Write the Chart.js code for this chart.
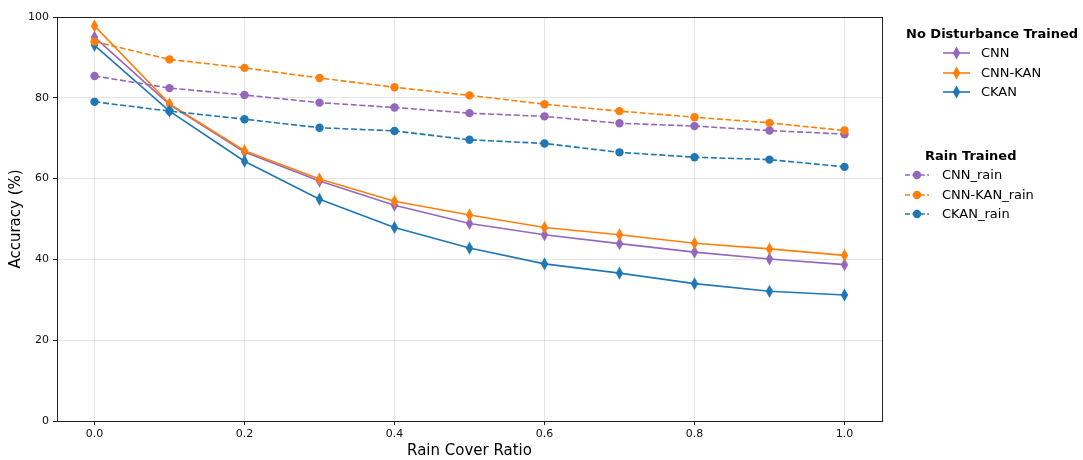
<!DOCTYPE html>
<html>
<head>
<meta charset="utf-8">
<script src="https://cdn.jsdelivr.net/npm/chart.js@4.4.1/dist/chart.umd.min.js"></script>
<style>
  html,body{margin:0;padding:0;background:#fff;}
  #wrap{position:relative;width:1083px;height:460px;font-family:"DejaVu Sans",sans-serif;}
  canvas#c{position:absolute;left:0;top:0;}
  .lg{position:absolute;font-size:13px;color:#000;white-space:nowrap;line-height:1;}
  .lg.title{font-weight:bold;}
  .lg svg{position:absolute;}
</style>
</head>
<body>
<div id="wrap">
  <canvas id="c" width="1083" height="460"></canvas>
</div>
<script>
const ratios = [0.0, 0.1, 0.2, 0.3, 0.4, 0.5, 0.6, 0.7, 0.8, 0.9, 1.0];
const xTicks = [0.0, 0.2, 0.4, 0.6, 0.8, 1.0];
const yTicks = [0, 20, 40, 60, 80, 100];

const cnn        = [95.0, 78.3, 66.6, 59.4, 53.4, 48.9, 46.1, 43.9, 41.8, 40.1, 38.7];
const cnnKan     = [97.8, 78.5, 66.9, 59.9, 54.4, 51.0, 47.9, 46.1, 44.0, 42.6, 41.0];
const ckan       = [93.0, 76.7, 64.3, 54.9, 47.9, 42.8, 38.9, 36.6, 34.0, 32.1, 31.2];
const cnnRain    = [85.4, 82.4, 80.7, 78.8, 77.6, 76.2, 75.4, 73.7, 73.0, 71.9, 71.0];
const cnnKanRain = [93.9, 89.5, 87.4, 84.9, 82.6, 80.6, 78.4, 76.7, 75.2, 73.8, 71.9];
const ckanRain   = [79.0, 76.7, 74.7, 72.6, 71.8, 69.6, 68.7, 66.5, 65.3, 64.7, 62.9];

const PURPLE = '#9467bd', ORANGE = '#ff7f0e', BLUE = '#1f77b4';
const FONT = "'DejaVu Sans', sans-serif";

function thinDiamond(color) {
  const c = document.createElement('canvas');
  c.width = 9; c.height = 14;
  const g = c.getContext('2d');
  g.fillStyle = color;
  g.beginPath();
  g.moveTo(4.5, 0.5); g.lineTo(8.2, 7); g.lineTo(4.5, 13.5); g.lineTo(0.8, 7); g.closePath();
  g.fill();
  return c;
}

function pts(arr) { return ratios.map((x, i) => ({x: x, y: arr[i]})); }

const DASH = [6, 2.6];
const series = [
  {label: 'CNN', data: cnn, color: PURPLE, dashed: false},
  {label: 'CNN-KAN', data: cnnKan, color: ORANGE, dashed: false},
  {label: 'CKAN', data: ckan, color: BLUE, dashed: false},
  {label: 'CNN_rain', data: cnnRain, color: PURPLE, dashed: true},
  {label: 'CNN-KAN_rain', data: cnnKanRain, color: ORANGE, dashed: true},
  {label: 'CKAN_rain', data: ckanRain, color: BLUE, dashed: true},
];

const datasets = series.map((s, i) => ({
  label: s.label,
  data: pts(s.data),
  borderColor: s.color,
  backgroundColor: s.color,
  borderWidth: 1.6,
  borderDash: s.dashed ? DASH : [],
  pointStyle: s.dashed ? 'circle' : thinDiamond(s.color),
  pointRadius: s.dashed ? 4.2 : 5,
  pointBorderWidth: 0,
  pointHoverRadius: 5,
  tension: 0,
  fill: false,
  order: 6 - i
}));

const frame = {
  id: 'frame',
  afterDatasetsDraw(chart) {
    const a = chart.chartArea, g = chart.ctx;
    g.save();
    g.strokeStyle = '#222';
    g.lineWidth = 1;
    g.strokeRect(Math.round(a.left) + 0.5, Math.round(a.top) + 0.5,
                 Math.round(a.right - a.left), Math.round(a.bottom - a.top));
    g.restore();
  }
};

const gridOpts = {
  color: 'rgba(190,190,190,0.5)',
  lineWidth: 0.8,
  borderDash: [1, 2],
  drawTicks: true,
  tickLength: 4,
  tickColor: '#222',
  tickWidth: 1,
  tickBorderDash: []
};

new Chart(document.getElementById('c'), {
  type: 'line',
  data: {datasets},
  plugins: [frame],
  options: {
    responsive: false,
    animation: false,
    events: [],
    layout: {padding: {left: 7, top: 17, right: 201, bottom: 0}},
    plugins: {legend: {display: false}, tooltip: {enabled: false}},
    scales: {
      x: {
        type: 'linear',
        min: -0.05, max: 1.05,
        afterBuildTicks: (sc) => { sc.ticks = xTicks.map(v => ({value: v})); },
        afterFit: (sc) => { sc.height = 39; },
        border: {display: false},
        grid: gridOpts,
        ticks: {
          color: '#111',
          padding: 3,
          maxRotation: 0,
          font: {family: FONT, size: 11},
          callback: (v) => Number(v).toFixed(1)
        },
        title: {
          display: true,
          text: 'Rain Cover Ratio',
          color: '#000',
          padding: {top: 2, bottom: 0},
          font: {family: FONT, size: 15}
        }
      },
      y: {
        type: 'linear',
        min: 0, max: 100,
        afterBuildTicks: (sc) => { sc.ticks = yTicks.map(v => ({value: v})); },
        afterFit: (sc) => { sc.width = 50; },
        border: {display: false},
        grid: gridOpts,
        ticks: {
          color: '#111',
          padding: 4,
          font: {family: FONT, size: 11},
          callback: (v) => String(v)
        },
        title: {
          display: true,
          text: 'Accuracy (%)',
          color: '#000',
          padding: {top: 0, bottom: 2},
          font: {family: FONT, size: 15}
        }
      }
    }
  }
});

// Legend (HTML)
const wrap = document.getElementById('wrap');
function addText(txt, x, yc, bold) {
  const d = document.createElement('div');
  d.className = 'lg' + (bold ? ' title' : '');
  d.textContent = txt;
  d.style.left = x + 'px';
  d.style.top = (yc - 7) + 'px';
  wrap.appendChild(d);
}
function addHandle(s, x1, x2, yc) {
  const ns = 'http://www.w3.org/2000/svg';
  const svg = document.createElementNS(ns, 'svg');
  const w = x2 - x1;
  svg.setAttribute('width', w); svg.setAttribute('height', 16);
  svg.style.position = 'absolute';
  svg.style.left = x1 + 'px'; svg.style.top = (yc - 8) + 'px';
  const ln = document.createElementNS(ns, 'line');
  ln.setAttribute('x1', 0); ln.setAttribute('x2', w);
  ln.setAttribute('y1', 8); ln.setAttribute('y2', 8);
  ln.setAttribute('stroke', s.color); ln.setAttribute('stroke-width', 1.6);
  if (s.dashed) ln.setAttribute('stroke-dasharray', '5,2.4');
  svg.appendChild(ln);
  let m;
  if (s.dashed) {
    m = document.createElementNS(ns, 'circle');
    m.setAttribute('cx', w / 2); m.setAttribute('cy', 8); m.setAttribute('r', 4.2);
  } else {
    m = document.createElementNS(ns, 'polygon');
    const cx = w / 2;
    m.setAttribute('points', `${cx},1.5 ${cx+3.7},8 ${cx},14.5 ${cx-3.7},8`);
  }
  m.setAttribute('fill', s.color);
  svg.appendChild(m);
  wrap.appendChild(svg);
}
addText('No Disturbance Trained', 906, 34, true);
[53, 72.5, 92].forEach((y, i) => { addHandle(series[i], 943, 970, y); addText(series[i].label, 981, y, false); });
addText('Rain Trained', 925, 156, true);
[175, 195, 214].forEach((y, i) => { addHandle(series[i + 3], 905, 929, y); addText(series[i + 3].label, 942, y, false); });
</script>
</body>
</html>
